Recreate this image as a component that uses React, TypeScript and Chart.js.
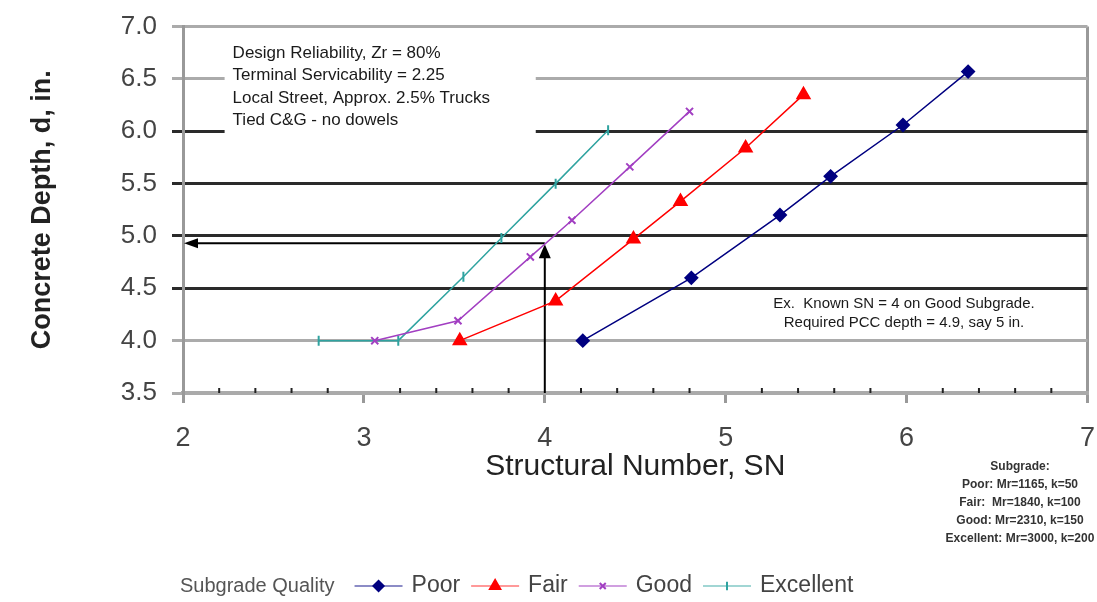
import React, { useEffect, useRef } from 'react';
import { Chart, registerables } from 'chart.js';
import { drawPoint } from 'chart.js/helpers';

Chart.register(...registerables);

// ---- data ----
const seriesNames = ['Poor', 'Fair', 'Good', 'Excellent'];
const poorSN = [4.21, 4.81, 5.3, 5.58, 5.98, 6.34];
const poorDepth = [4.0, 4.6, 5.2, 5.57, 6.06, 6.57];
const fairSN = [3.53, 4.06, 4.49, 4.75, 5.11, 5.43];
const fairDepth = [4.0, 4.38, 4.97, 5.33, 5.84, 6.35];
const goodSN = [3.06, 3.52, 3.92, 4.15, 4.47, 4.8];
const goodDepth = [4.0, 4.19, 4.8, 5.15, 5.66, 6.19];
const excellentSN = [2.75, 3.19, 3.55, 3.76, 4.06, 4.35];
const excellentDepth = [4.0, 4.0, 4.61, 4.98, 5.5, 6.01];

const xTicks = [2, 3, 4, 5, 6, 7];
const yTicks = [3.5, 4.0, 4.5, 5.0, 5.5, 6.0, 6.5, 7.0];
const lightGridValues = [3.5, 4.0, 6.5, 7.0];

const exampleSN = 4;
const exampleDepth = 4.93;

const designNotes = [
  'Design Reliability, Zr = 80%',
  'Terminal Servicability = 2.25',
  'Local Street, Approx. 2.5% Trucks',
  'Tied C&G - no dowels',
];
const exampleNotes = [
  'Ex.  Known SN = 4 on Good Subgrade.',
  'Required PCC depth = 4.9, say 5 in.',
];
const subgradeNotes = [
  'Subgrade:',
  'Poor: Mr=1165, k=50',
  'Fair:  Mr=1840, k=100',
  'Good: Mr=2310, k=150',
  'Excellent: Mr=3000, k=200',
];
const legendTitle = 'Subgrade Quality';

const FONT = '"Liberation Sans", Arial, sans-serif';
const OFFY = 4; // canvas is shifted up by this many px

const colors = ['#000080', '#ff0000', '#a23fc2', '#2fa3a0'];
const legendColors = ['rgba(0,0,128,0.45)', 'rgba(255,0,0,0.4)', 'rgba(162,63,194,0.5)', 'rgba(47,163,160,0.45)'];
const pointStyles = ['rectRot', 'triangle', 'crossRot', 'line'];
const pointRadii = [6, 7, 5, 5];
const pointRotations = [0, 0, 0, 90];

function zip(xs: number[], ys: number[]) {
  return xs.map((x, i) => ({ x, y: ys[i] }));
}

const annotationsPlugin = {
  id: 'annotations',
  beforeDatasetsDraw(chart: any) {
    const { ctx } = chart;
    const xs = chart.scales.x;
    const ys = chart.scales.y;
    ctx.save();
    // design notes box (white, covers grid lines)
    const bx0 = xs.getPixelForValue(2.23);
    const bx1 = xs.getPixelForValue(3.95);
    const by0 = ys.getPixelForValue(6.91);
    const by1 = ys.getPixelForValue(5.955);
    ctx.fillStyle = '#ffffff';
    ctx.fillRect(bx0, by0, bx1 - bx0, by1 - by0);
    ctx.fillStyle = '#1a1a1a';
    ctx.font = `17px ${FONT}`;
    ctx.textBaseline = 'middle';
    ctx.textAlign = 'left';
    designNotes.forEach((t, i) => {
      ctx.fillText(t, bx0 + 8, 53 + OFFY + i * 22.5);
    });

    // example notes
    ctx.font = `15px ${FONT}`;
    ctx.textAlign = 'center';
    exampleNotes.forEach((t, i) => {
      ctx.fillText(t, 904, 304 + OFFY + i * 18.5);
    });

    // arrows
    ctx.strokeStyle = '#000';
    ctx.fillStyle = '#000';
    ctx.lineWidth = 2;
    const ax = xs.getPixelForValue(exampleSN);
    const ay = ys.getPixelForValue(exampleDepth);
    const yBottom = ys.getPixelForValue(3.5);
    const xLeft = xs.getPixelForValue(2);
    // vertical arrow
    ctx.beginPath();
    ctx.moveTo(ax, yBottom);
    ctx.lineTo(ax, ay + 12);
    ctx.stroke();
    ctx.beginPath();
    ctx.moveTo(ax, ay + 1);
    ctx.lineTo(ax - 6, ay + 15);
    ctx.lineTo(ax + 6, ay + 15);
    ctx.closePath();
    ctx.fill();
    // horizontal arrow
    ctx.beginPath();
    ctx.moveTo(ax, ay);
    ctx.lineTo(xLeft + 12, ay);
    ctx.stroke();
    ctx.beginPath();
    ctx.moveTo(xLeft + 1, ay);
    ctx.lineTo(xLeft + 15, ay - 5);
    ctx.lineTo(xLeft + 15, ay + 5);
    ctx.closePath();
    ctx.fill();
    ctx.restore();
  },
  afterDraw(chart: any) {
    const { ctx } = chart;
    const xs = chart.scales.x;
    const ys = chart.scales.y;
    ctx.save();
    // minor ticks on x axis
    const axisY = ys.getPixelForValue(3.5);
    ctx.strokeStyle = '#222';
    ctx.lineWidth = 2;
    for (let i = 0; i < 25; i++) {
      if (i % 5 === 0) continue;
      const v = 2 + i * 0.2;
      const px = xs.getPixelForValue(v);
      ctx.beginPath();
      ctx.moveTo(px, axisY - 5);
      ctx.lineTo(px, axisY);
      ctx.stroke();
    }

    // subgrade notes
    ctx.fillStyle = '#333';
    ctx.font = `bold 12px ${FONT}`;
    ctx.textAlign = 'center';
    ctx.textBaseline = 'middle';
    subgradeNotes.forEach((t, i) => {
      ctx.fillText(t, 1020, 467 + OFFY + i * 18);
    });

    // legend
    const ly = 586 + OFFY;
    ctx.textAlign = 'left';
    ctx.fillStyle = '#555';
    ctx.font = `20px ${FONT}`;
    ctx.fillText(legendTitle, 180, ly);
    let x = 180 + ctx.measureText(legendTitle).width + 20;
    chart.data.datasets.forEach((ds: any, i: number) => {
      ctx.strokeStyle = legendColors[i];
      ctx.lineWidth = 2;
      ctx.beginPath();
      ctx.moveTo(x, ly);
      ctx.lineTo(x + 48, ly);
      ctx.stroke();
      ctx.fillStyle = colors[i];
      ctx.strokeStyle = colors[i];
      drawPoint(ctx, {
        pointStyle: pointStyles[i],
        radius: pointRadii[i] * 0.85,
        rotation: pointRotations[i],
        borderWidth: 2,
      } as any, x + 24, ly);
      ctx.fillStyle = '#444';
      ctx.font = `23px ${FONT}`;
      ctx.fillText(ds.label, x + 57, ly);
      x += 57 + ctx.measureText(ds.label).width + 11;
    });
    ctx.restore();
  },
};

export default function App() {
  const canvasRef = useRef<HTMLCanvasElement | null>(null);

  useEffect(() => {
    document.body.style.margin = '0';
    const canvas = canvasRef.current;
    if (!canvas) return;
    const seriesData = [
      zip(poorSN, poorDepth),
      zip(fairSN, fairDepth),
      zip(goodSN, goodDepth),
      zip(excellentSN, excellentDepth),
    ];
    const chart = new Chart(canvas, {
      type: 'line',
      data: {
        datasets: seriesNames.map((name, i) => ({
          label: name,
          data: seriesData[i],
          borderColor: colors[i],
          backgroundColor: colors[i],
          borderWidth: 1.5,
          pointStyle: pointStyles[i] as any,
          pointRadius: pointRadii[i],
          pointRotation: pointRotations[i],
          pointBorderWidth: 2,
          pointBackgroundColor: colors[i],
          pointBorderColor: colors[i],
          showLine: true,
          fill: false,
          tension: 0,
        })),
      },
      options: {
        animation: false,
        responsive: true,
        maintainAspectRatio: false,
        layout: { padding: { top: 0, right: 0, bottom: 0, left: 0 } },
        plugins: {
          legend: { display: false },
          tooltip: { enabled: false },
        },
        scales: {
          x: {
            type: 'linear',
            min: 2,
            max: 7,
            afterBuildTicks: (scale: any) => {
              scale.ticks = xTicks.map((v) => ({ value: v }));
            },
            afterFit: (scale: any) => {
              scale.height = 209;
            },
            ticks: {
              color: '#444',
              font: { family: FONT, size: 27 },
              padding: 19,
              callback: (v: any) => String(v),
            },
            grid: {
              color: (c: any) => (c.tick && c.tick.value === 7 ? '#999' : 'rgba(0,0,0,0)'),
              tickColor: '#999',
              lineWidth: 3,
              tickLength: 10,
            },
            border: { display: true, color: '#aaa', width: 4 },
            title: {
              display: true,
              text: 'Structural Number, SN',
              color: '#222',
              font: { family: FONT, size: 30 },
              padding: { top: 0, bottom: 117 },
            },
          },
          y: {
            type: 'linear',
            min: 3.5,
            max: 7,
            afterBuildTicks: (scale: any) => {
              scale.ticks = yTicks.map((v) => ({ value: v }));
            },
            afterFit: (scale: any) => {
              scale.width = 183;
            },
            ticks: {
              color: '#444',
              font: { family: FONT, size: 26 },
              padding: 15,
              callback: (v: any) => Number(v).toFixed(1),
            },
            grid: {
              color: (c: any) =>
                c.tick && lightGridValues.some((g) => Math.abs(g - c.tick.value) < 1e-6) ? '#ababab' : '#2a2a2a',
              lineWidth: 3,
              tickLength: 11,
            },
            border: { display: true, color: '#999', width: 3 },
            title: {
              display: true,
              text: 'Concrete Depth, d, in.',
              color: '#222',
              font: { family: FONT, size: 27, weight: 'bold' },
              padding: { top: 26, bottom: 0 },
            },
          },
        },
      },
      plugins: [annotationsPlugin],
    });
    return () => chart.destroy();
  }, []);

  return (
    <div style={{ position: 'fixed', left: 0, top: 0, width: 1097, height: 602, overflow: 'hidden', background: '#fff' }}>
      <div style={{ position: 'absolute', left: 0, top: -OFFY, width: 1114, height: 602 + OFFY }}>
        <canvas ref={canvasRef} />
      </div>
    </div>
  );
}
